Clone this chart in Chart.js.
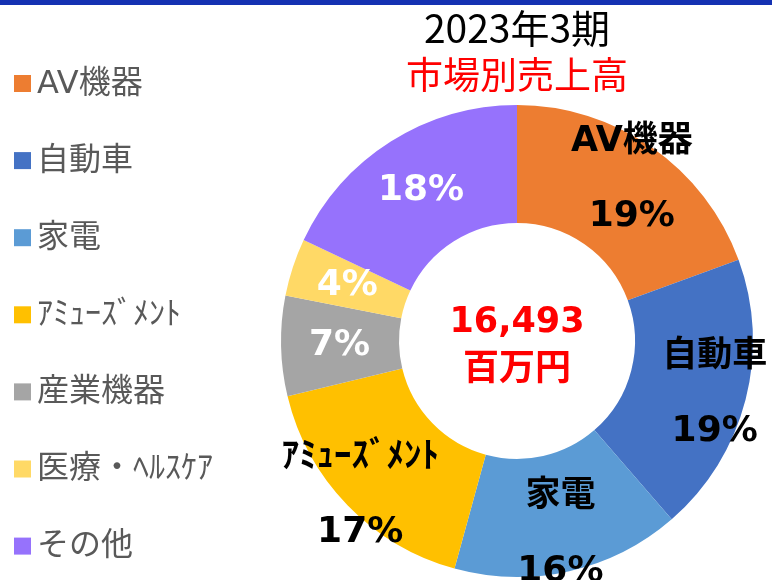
<!DOCTYPE html>
<html>
<head>
<meta charset="utf-8">
<script src="https://cdn.jsdelivr.net/npm/chart.js@4/dist/chart.umd.min.js"></script>
<style>
  html, body { margin: 0; padding: 0; background: #fff; }
  #wrap { position: relative; width: 772px; height: 580px; overflow: hidden; }
  #topbar { position: absolute; left: 0; top: 0; width: 772px; height: 5px; background: #1431b2; }
</style>
</head>
<body>
<div id="wrap">
  <canvas id="marketChart" width="772" height="580"></canvas>
  <div id="topbar"></div>
</div>
<script>
const markets = ['AV機器', '自動車', '家電', 'ｱﾐｭｰｽﾞﾒﾝﾄ', '産業機器', '医療・ﾍﾙｽｹｱ', 'その他'];
// 売上高（百万円）
const sales = [3200, 3170, 2580, 2800, 1130, 650, 2963];
const totalLabel = '16,493';
const unitLabel = '百万円';
const colors = ['#ed7d31', '#4472c4', '#5b9bd5', '#ffc000', '#a5a5a5', '#ffd966', '#9672fc'];

const FONT = '"Noto Sans CJK JP", "Noto Sans", sans-serif';
const WIDE = '"DejaVu Sans", "Noto Sans CJK JP", sans-serif';

// label placement (fraction of outer radius), which slices show their name, text colour
const labelDist = [0.85, 0.865, 0.83, 0.925, 0.752, 0.757, 0.76];
const showName = [true, true, true, true, false, false, false];
const labelColor = ['#000', '#000', '#000', '#000', '#fff', '#fff', '#fff'];

const sliceLabels = {
  id: 'sliceLabels',
  afterDatasetsDraw(chart) {
    const ctx = chart.ctx;
    const meta = chart.getDatasetMeta(0);
    const values = chart.data.datasets[0].data;
    const total = values.reduce((a, b) => a + b, 0);
    ctx.save();
    ctx.textAlign = 'center';
    ctx.textBaseline = 'middle';
    meta.data.forEach((arc, i) => {
      const { x, y, startAngle, endAngle, outerRadius } = arc.getProps(['x', 'y', 'startAngle', 'endAngle', 'outerRadius'], true);
      const mid = (startAngle + endAngle) / 2;
      const r = outerRadius * labelDist[i];
      const lx = x + r * Math.cos(mid);
      const ly = y + r * Math.sin(mid);
      const pct = Math.round(values[i] / total * 100) + '%';
      ctx.fillStyle = labelColor[i];
      if (showName[i]) {
        ctx.font = 'bold 35px ' + WIDE;
        ctx.fillText(chart.data.labels[i], lx, ly - 35);
        ctx.font = 'bold 36px ' + WIDE;
        ctx.fillText(pct, lx, ly + 40);
      } else {
        ctx.font = 'bold 36px ' + WIDE;
        ctx.fillText(pct, lx, ly + 1);
      }
    });
    // centre total
    const c = meta.data[0];
    ctx.fillStyle = '#ff0000';
    ctx.font = 'bold 35px ' + WIDE;
    ctx.fillText(totalLabel, c.x, c.y - 18);
    ctx.font = 'bold 36px ' + FONT;
    ctx.fillText(unitLabel, c.x, c.y + 25);
    ctx.restore();
  }
};

const sideLegend = {
  id: 'sideLegend',
  afterDraw(chart) {
    const ctx = chart.ctx;
    const bg = chart.data.datasets[0].backgroundColor;
    ctx.save();
    ctx.textBaseline = 'middle';
    ctx.textAlign = 'left';
    ctx.font = '32px ' + WIDE;
    chart.data.labels.forEach((label, i) => {
      const cy = 83.5 + i * 77.1;
      ctx.fillStyle = bg[i];
      ctx.fillRect(14, cy - 8.5, 17, 17);
      ctx.fillStyle = '#595959';
      ctx.fillText(label, 37, cy + 1);
    });
    ctx.restore();
  }
};

new Chart(document.getElementById('marketChart').getContext('2d'), {
  type: 'doughnut',
  data: {
    labels: markets,
    datasets: [{
      data: sales,
      backgroundColor: colors,
      borderWidth: 0,
    }]
  },
  options: {
    responsive: false,
    animation: false,
    cutout: '50%',
    layout: { padding: { left: 281, right: 19, top: 0, bottom: 3 } },
    plugins: {
      legend: { display: false },
      tooltip: { enabled: false },
      title: {
        display: true,
        text: '2023年3期',
        color: '#000',
        font: { family: FONT, size: 39, weight: 'normal', lineHeight: 1.2 },
        padding: { top: 4.6, bottom: 0 }
      },
      subtitle: {
        display: true,
        text: '市場別売上高',
        color: '#ff0000',
        font: { family: FONT, size: 37, weight: 'normal', lineHeight: 1.2 },
        padding: { top: 1.2, bottom: 8 }
      }
    }
  },
  plugins: [sliceLabels, sideLegend]
});
</script>
</body>
</html>
